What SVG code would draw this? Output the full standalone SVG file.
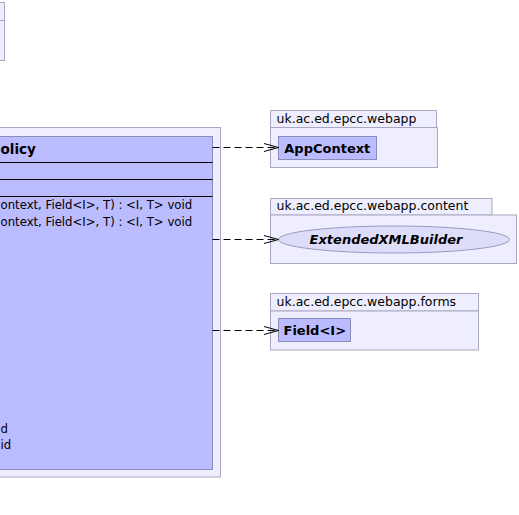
<svg xmlns="http://www.w3.org/2000/svg" width="519" height="515" viewBox="0 0 519 515">
<defs>
<style>
.pkg{fill:#EEEEFF;stroke:#A8A8C0;stroke-width:1}
.cls{fill:#BBBBFF;stroke:#8C8CB8;stroke-width:1}
.sep{stroke:#000;stroke-width:1}
.pt{font-family:"DejaVu Sans",sans-serif;font-size:12.5px;fill:#000}
.cn{font-family:"DejaVu Sans",sans-serif;font-size:13px;font-weight:bold;fill:#000}
.mt{font-family:"DejaVu Sans",sans-serif;font-size:11.7px;fill:#000}
.dep{stroke:#000;stroke-width:1;fill:none;stroke-dasharray:7,4}
.head{stroke:#000;stroke-width:1;fill:none}
</style>
</defs>
<rect width="519" height="515" fill="#FFFFFF"/>
<g id="pkg-topleft">
<rect class="pkg" x="-50" y="2.5" width="54.5" height="18"/>
<rect class="pkg" x="-50" y="20.5" width="54.5" height="40"/>
</g>
<g id="pkg-policy">
<rect class="pkg" x="-50" y="127.5" width="270.5" height="349.5"/>
<g id="policy">
<rect class="cls" x="-50" y="136.5" width="262.5" height="333"/>
<line class="sep" x1="-50" y1="162.5" x2="212.5" y2="162.5"/>
<line class="sep" x1="-50" y1="179.5" x2="212.5" y2="179.5"/>
<line class="sep" x1="-50" y1="196.5" x2="212.5" y2="196.5"/>
<text class="cn" style="font-size:13.5px" x="0.5" y="154">olicy</text>
<text class="mt" x="0.5" y="209">ontext, Field&lt;I&gt;, T) : &lt;I, T&gt; void</text>
<text class="mt" x="0.5" y="225.5">ontext, Field&lt;I&gt;, T) : &lt;I, T&gt; void</text>
<text class="mt" x="0.5" y="432.5">d</text>
<text class="mt" x="0.5" y="449">id</text>
</g>
</g>
<g id="pkg-webapp">
<rect class="pkg" x="270.5" y="110.5" width="166" height="17"/>
<rect class="pkg" x="270.5" y="127.5" width="167" height="40"/>
<text class="pt" x="276.5" y="122.5">uk.ac.ed.epcc.webapp</text>
<g id="AppContext">
<rect class="cls" x="278.5" y="136.5" width="98" height="23"/>
<text class="cn" x="284.3" y="152.5">AppContext</text>
</g>
</g>
<g id="pkg-content">
<rect class="pkg" x="270.5" y="198.5" width="221.5" height="16.5"/>
<rect class="pkg" x="270.5" y="215" width="246" height="48.5"/>
<text class="pt" x="276.5" y="209.5">uk.ac.ed.epcc.webapp.content</text>
<g id="ExtendedXMLBuilder">
<ellipse cx="394" cy="239.5" rx="115.5" ry="13.5" fill="#DDDDFA" stroke="#9A9AC0" stroke-width="1"/>
<text class="cn" x="386" y="244" text-anchor="middle" font-style="italic">ExtendedXMLBuilder</text>
</g>
</g>
<g id="pkg-forms">
<rect class="pkg" x="270.5" y="293.5" width="208" height="17.5"/>
<rect class="pkg" x="270.5" y="311" width="208" height="39"/>
<text class="pt" x="276.5" y="305.5">uk.ac.ed.epcc.webapp.forms</text>
<g id="Field">
<rect class="cls" x="278.5" y="318.5" width="72" height="23"/>
<text class="cn" x="283.5" y="335">Field&lt;I&gt;</text>
</g>
</g>
<g id="connectors">
<line class="dep" x1="212.5" y1="147.5" x2="278" y2="147.5"/>
<path class="head" d="M264,143.5 L278.5,147.5 L264,151.5"/>
<line class="dep" x1="212.5" y1="239.5" x2="278" y2="239.5"/>
<path class="head" d="M264,235.5 L278.5,239.5 L264,243.5"/>
<line class="dep" x1="212.5" y1="330.5" x2="278" y2="330.5"/>
<path class="head" d="M264,326.5 L278.5,330.5 L264,334.5"/>
</g>
</svg>
